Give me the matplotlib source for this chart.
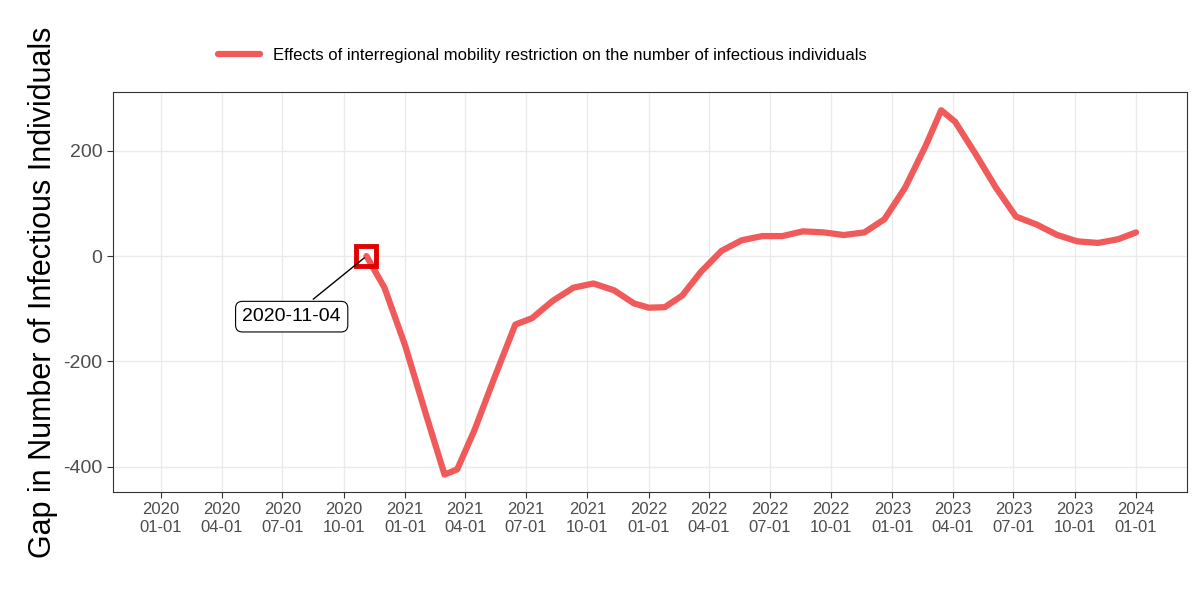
import matplotlib.pyplot as plt
import pandas as pd

plt.rcParams["font.family"] = ["Liberation Sans", "DejaVu Sans"]
plt.rcParams["axes.unicode_minus"] = False

dates = ["2020-11-04", "2020-12-01", "2021-01-01", "2021-02-01", "2021-03-01", "2021-03-20",
         "2021-04-15", "2021-05-15", "2021-06-15", "2021-07-10", "2021-08-10", "2021-09-10",
         "2021-10-10", "2021-11-10", "2021-12-10", "2022-01-01", "2022-01-25", "2022-02-20",
         "2022-03-20", "2022-04-20", "2022-05-20", "2022-06-20", "2022-07-20", "2022-08-20",
         "2022-09-20", "2022-10-20", "2022-11-20", "2022-12-20", "2023-01-20", "2023-02-20",
         "2023-03-15", "2023-04-05", "2023-05-05", "2023-06-05", "2023-07-05", "2023-08-05",
         "2023-09-05", "2023-10-05", "2023-11-05", "2023-12-05", "2024-01-01"]
gap = [0, -60, -170, -300, -415, -405,
       -330, -230, -130, -118, -85, -60,
       -52, -65, -90, -98, -97, -75,
       -30, 10, 30, 38, 38, 47,
       45, 40, 45, 70, 130, 210,
       277, 255, 195, 130, 75, 60,
       40, 28, 25, 32, 45]
tick_dates = pd.date_range("2020-01-01", "2024-01-01", freq="3MS")

x = pd.to_datetime(dates)
fig = plt.figure(figsize=(12, 6), dpi=100)
ax = fig.add_axes([0.094, 0.18, 0.895, 0.667])
ax.plot(x, gap, color="#f15a5a", lw=4.5, solid_capstyle="round", solid_joinstyle="round",
        label="Effects of interregional mobility restriction on the number of infectious individuals")
ax.plot(x[0], gap[0], marker="s", ms=14, mfc="none", mec="#e00000", mew=3.5)
ax.annotate("2020-11-04", xy=(x[0], gap[0]), xytext=(pd.Timestamp("2020-07-15"), -115),
            ha="center", va="center", fontsize=14,
            bbox=dict(boxstyle="round,pad=0.35", fc="white", ec="black", lw=0.8),
            arrowprops=dict(arrowstyle="-", color="black", lw=1))

ax.set_xlim(pd.Timestamp("2020-01-01") - pd.Timedelta(days=72),
            pd.Timestamp("2020-01-01") + pd.Timedelta(days=1537))
ax.set_ylim(-448, 312)
ax.set_yticks([-400, -200, 0, 200])
ax.set_xticks(tick_dates)
ax.set_xticklabels([d.strftime("%Y\n%m-%d") for d in tick_dates], fontsize=12, color="#4d4d4d")
ax.tick_params(axis="y", labelsize=14, labelcolor="#4d4d4d")
ax.tick_params(color="#333333", length=4)
ax.grid(True, color="#ebebeb", lw=1)
ax.set_axisbelow(True)
for s in ax.spines.values():
    s.set_color("#333333")
ax.set_ylabel("Gap in Number of Infectious Individuals", fontsize=22)
ax.legend(loc="lower center", bbox_to_anchor=(0.4, 1.035), frameon=False, fontsize=12,
          handlelength=2.5)
fig.savefig("out.png")
